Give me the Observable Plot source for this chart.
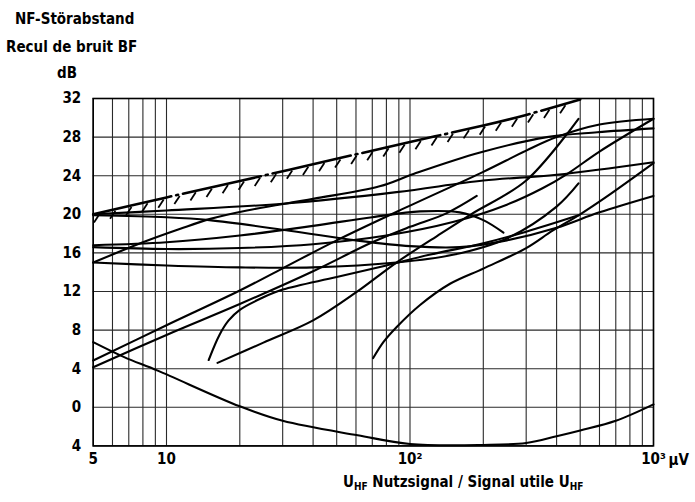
<!DOCTYPE html>
<html>
<head>
<meta charset="utf-8">
<script src="https://cdn.jsdelivr.net/npm/d3@7"></script>
<script src="https://cdn.jsdelivr.net/npm/@observablehq/plot@0.6"></script>
<style>
  html, body { margin: 0; padding: 0; background: #fff; }
  #wrap { position: relative; width: 695px; height: 502px; font-family: "DejaVu Sans Condensed", "DejaVu Sans", sans-serif; font-weight: bold; color: #000; }
  .lbl { position: absolute; font-size: 15px; line-height: 15px; white-space: nowrap; }
  .lbl sub { font-size: 10px; vertical-align: -3px; }
</style>
</head>
<body>
<div id="wrap">
  <div id="chart"></div>
  <div class="lbl" style="left:15px; top:12px;">NF-Störabstand</div>
  <div class="lbl" style="left:6px; top:40px;">Recul de bruit BF</div>
  <div class="lbl" style="left:57px; top:66px;">dB</div>
  <div class="lbl" style="left:343px; top:475px;">U<sub>HF</sub> Nutzsignal / Signal utile U<sub>HF</sub></div>
</div>
<script>
// ---- tick labels / grid positions ----
const xTickValues = [5, 10, 100, 1000];
const xTickLabels = ["5", "10", "10²", "10³"];
const xGridValues = [5, 6, 7, 8, 9, 10, 20, 30, 40, 50, 60, 70, 80, 90, 100, 200, 300, 400, 500, 600, 700, 800, 900, 1000];
const yTickValues = [-4, 0, 4, 8, 12, 16, 20, 24, 28, 32];
const yTickLabels = ["4", "0", "4", "8", "12", "16", "20", "24", "28", "32"];

// ---- curves: [µV, dB] ----
const limitCurve = [[5,20],[10,21.75],[20,23.45],[50,25.75],[100,27.5],[200,29.2],[300,30.3],[500,31.9]];
const curveA  = [[5,20],[10,20.4],[30,21.1],[88,22.3],[200,23.5],[400,24.1],[1000,25.4]];
const curveB  = [[5,19.9],[10,19.7],[15,19.4],[32,18.3],[60,17.3],[100,16.7],[160,16.6],[250,17.3],[400,18.6],[600,20.2],[1000,21.9]];
const curveArch = [[5,16.8],[10,17.1],[20,17.8],[40,18.8],[70,19.7],[110,20.3],[160,20.2],[200,19.4],[242,18.1]];
const curveD  = [[5,16.6],[10,16.4],[20,16.5],[40,16.9],[80,17.8],[150,19.2],[250,21],[350,22.7],[443,24.2],[600,26.5],[1000,29.9]];
const curveE  = [[5,15],[8,17.1],[11.4,18.5],[15,19.5],[21.4,20.4],[40,21.6],[75,22.9],[104,24.2],[194,26.4],[365,28],[588,28.5],[1000,28.9]];
const curveF  = [[5,15],[10,14.7],[20,14.5],[40,14.5],[88,15],[150,15.8],[250,17.5],[400,20.8],[492,23.2]];
const curveG  = [[5,4.85],[10,8.5],[20,12.1],[30,14.4],[50,17.3],[100,20.9],[200,24.4],[300,26.6],[400,28],[600,29.3],[1000,29.9]];
const curveG2 = [[5,4.15],[10,7.5],[20,10.7],[40,14.1],[70,17.1],[100,18.7],[141,20.1],[188,21.9]];
const curve3  = [[14.9,4.9],[16.5,7.5],[18,9],[20,10.1],[25,11.4],[30,12.2],[50,13.5],[80,14.7],[120,15.8],[200,17],[300,18.2],[492,19.9]];
const curve4  = [[16.2,4.6],[25,6.7],[40,9],[60,11.9],[88,15],[130,17.8],[178,20],[300,23.5],[492,29.9]];
const curve5  = [[70.6,5.1],[78,6.8],[88,8.3],[110,10.6],[146,12.8],[201,14.4],[300,16.5],[385,18.3],[500,20],[640,21.8],[1000,25.3]];
const curveU  = [[5,6.75],[6.7,5.2],[9.2,3.8],[20,0.1],[30,-1.4],[61,-2.9],[100,-3.8],[200,-3.9],[300,-3.7],[400,-3.0],[500,-2.4],[700,-1.4],[1000,0.3]];

const curves = {curveA, curveB, curveArch, curveD, curveE, curveF, curveG, curveG2, curve3, curve4, curve5, curveU};
const rows = Object.entries(curves).flatMap(([id, pts]) => pts.map(([x, y]) => ({id, x, y})));
const limitRows = limitCurve.map(([x, y]) => ({x, y}));

// hatch marks along the limit curve (interpolated from its own points in log-x)
const lx = limitCurve.map(d => Math.log10(d[0]));
const ly = limitCurve.map(d => d[1]);
const interp = d3.scaleLinear().domain(lx).range(ly);
const hatch = d3.range(Math.log10(5.3), Math.log10(490), 0.066).map(l => {
  const x = 10 ** l, y = interp(l);
  return {x1: x, y1: y - 0.15, x2: 10 ** (l - 0.022), y2: y - 1.0};
});

const fmtY = new Map(yTickValues.map((v, i) => [v, yTickLabels[i]]));
const xLabelRows = xTickValues.map((v, i) => ({x: v, label: xTickLabels[i]}));

const chart = Plot.plot({
  width: 695,
  height: 502,
  marginLeft: 92.7,
  marginRight: 42,
  marginTop: 98,
  marginBottom: 56.6,
  x: {type: "log", domain: [5, 1000], axis: null},
  y: {domain: [-4, 32]},
  style: {fontFamily: "'DejaVu Sans Condensed', 'DejaVu Sans', sans-serif", fontWeight: "bold", fontSize: "15px", color: "#000", background: "transparent"},
  marks: [
    Plot.ruleX(xGridValues, {stroke: "#2a2a2a", strokeWidth: 1.1}),
    Plot.ruleY(yTickValues, {stroke: "#2a2a2a", strokeWidth: 1.1}),
    Plot.frame({stroke: "#000", strokeWidth: 1.6}),
    Plot.axisY(yTickValues, {tickSize: 0, tickPadding: 12, tickFormat: d => fmtY.get(d), label: null, fontSize: 15}),
    Plot.text(xLabelRows, {x: "x", text: "label", frameAnchor: "bottom", dy: 18, fontSize: 15}),
    Plot.text([1000], {x: d => d, frameAnchor: "bottom", dy: 19, dx: 15, textAnchor: "start", text: () => "µV", fontSize: 15}),
    Plot.line(rows, {x: "x", y: "y", z: "id", curve: "catmull-rom", stroke: "#000", strokeWidth: 2.1}),
    Plot.line(limitRows, {x: "x", y: "y", curve: "catmull-rom", stroke: "#000", strokeWidth: 2.6, strokeDasharray: "80,5,2,5"}),
    Plot.link(hatch, {x1: "x1", y1: "y1", x2: "x2", y2: "y2", stroke: "#000", strokeWidth: 1.8})
  ]
});
document.getElementById("chart").appendChild(chart);
</script>
</body>
</html>
